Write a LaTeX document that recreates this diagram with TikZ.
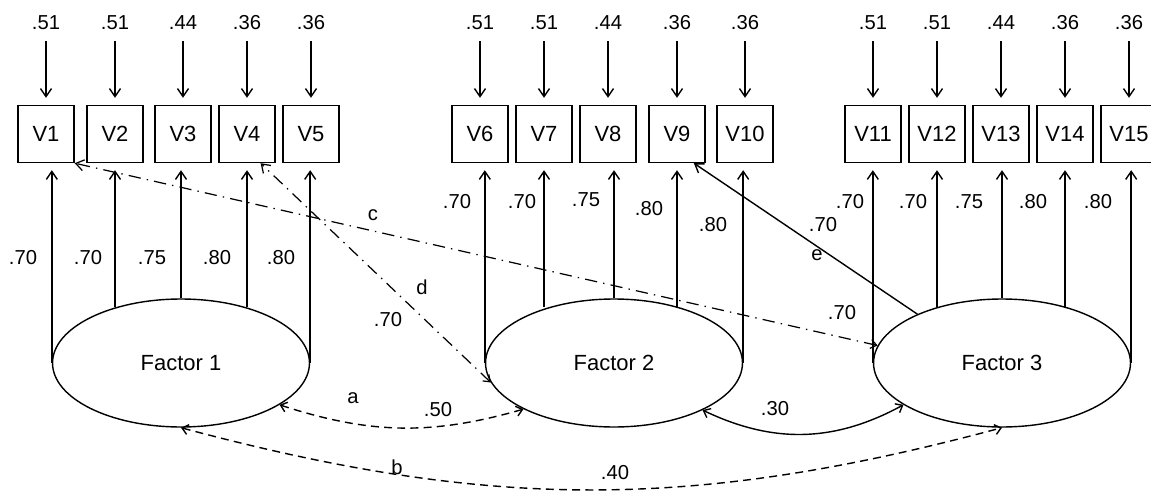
\documentclass[tikz,border=0pt]{standalone}
\usepackage{fontspec}
\setmainfont{Liberation Sans}
\usetikzlibrary{arrows.meta,shapes.geometric}
\tikzset{
  obs/.style={draw,line width=0.8pt,minimum width=1.12cm,minimum height=1.14cm,
    inner sep=0pt,font=\fontsize{12.5}{14}\selectfont},
  lat/.style={draw,ellipse,line width=0.8pt,minimum width=5.14cm,minimum height=2.56cm,
    inner sep=0pt,font=\fontsize{12.5}{14}\selectfont},
  num/.style={font=\fontsize{11.5}{13}\selectfont,inner sep=0pt},
  arr/.style={-{Straight Barb[length=1.6mm,width=2.2mm]},line width=0.8pt},
  cov/.style={{Straight Barb[length=1.2mm,width=2mm]}-{Straight Barb[length=1.2mm,width=2mm]},
    line width=0.8pt},
  dsh/.style={dash pattern=on 4.5pt off 3pt},
  xl/.style={{Straight Barb[length=1.2mm,width=1.8mm]}-{Straight Barb[length=1.6mm,width=2.2mm]},
    line width=0.7pt,dash pattern=on 7pt off 3.5pt on 0.8pt off 3.5pt},
}
\begin{document}
\begin{tikzpicture}[x=0.02cm,y=0.02cm]
  \useasboundingbox (0,0) rectangle (1151,494);
  % observed variables and their errors
  \foreach \n/\x/\e in {1/46/.51,2/115/.51,3/183/.44,4/247/.36,5/311/.36,
      6/480/.51,7/544/.51,8/608/.44,9/677/.36,10/745/.36,
      11/873/.51,12/937/.51,13/1001/.44,14/1065/.36,15/1129/.36}{
    \node[obs] (V\n) at (\x,360) {V\n};
    \node[num] (e\n) at (\x,471) {\e};
    \draw[arr,shorten <=0.22cm,shorten >=0.14cm] (e\n) -- (V\n);
  }
  % factors
  \node[lat] (F1) at (181,131) {Factor 1};
  \node[lat] (F2) at (614,131) {Factor 2};
  \node[lat] (F3) at (1002,131) {Factor 3};
  % loadings
  \foreach \f/\a/\b/\c/\d/\g in {1/1/2/3/4/5,2/6/7/8/9/10,3/11/12/13/14/15}{
    \draw[arr,shorten >=0.14cm] (F\f.west) -- (F\f.west |- V\a.south);
    \draw[arr,shorten >=0.14cm] (V\b.south |- F\f.140) -- (V\b.south);
    \draw[arr,shorten >=0.14cm] (F\f.north) -- (F\f.north |- V\c.south);
    \draw[arr,shorten >=0.14cm] (V\d.south |- F\f.40) -- (V\d.south);
    \draw[arr,shorten >=0.14cm] (F\f.east) -- (F\f.east |- V\g.south);
  }
  \foreach \x/\y/\t in {23/236/.70,88/236/.70,152/236/.75,217/236/.80,281/236/.80,
      457/292/.70,522/292/.70,586/294/.75,649/285/.80,713/269/.80,
      850/292/.70,913/292/.70,969/292/.75,1033/292/.80,1098/292/.80}{
    \node[num] at (\x,\y) {\t};
  }
  % correlations between factors
  \draw[cov,dsh] (F1.-23) to[bend right=17] (F2.-153);
  \draw[cov,dsh] (F1.south) to[bend right=15] (F3.south);
  \draw[cov] (F2.-28) to[bend right=27] (F3.-157);
  \node[num] (la) at (353,96) {a};
  \node[num] (r12) at (438,84) {.50};
  \node[num] (lb) at (397,27) {b};
  \node[num] (r13) at (615,21) {.40};
  \node[num] (r23) at (775,85) {.30};
  % cross loadings
  \draw[xl] (F3.172) -- (V1.south east);
  \draw[xl] (F2.-171) -- (V4.-65);
  \draw[arr] (F3.150) -- (V9.-60);
  \node[num] (lc) at (373,279) {c};
  \node[num] (ld) at (422,207) {d};
  \node[num] (wd) at (388,174) {.70};
  \node[num] (le) at (817,239) {e};
  \node[num] (we) at (823,269) {.70};
  \node[num] (wc) at (842,181) {.70};
\end{tikzpicture}
\end{document}
